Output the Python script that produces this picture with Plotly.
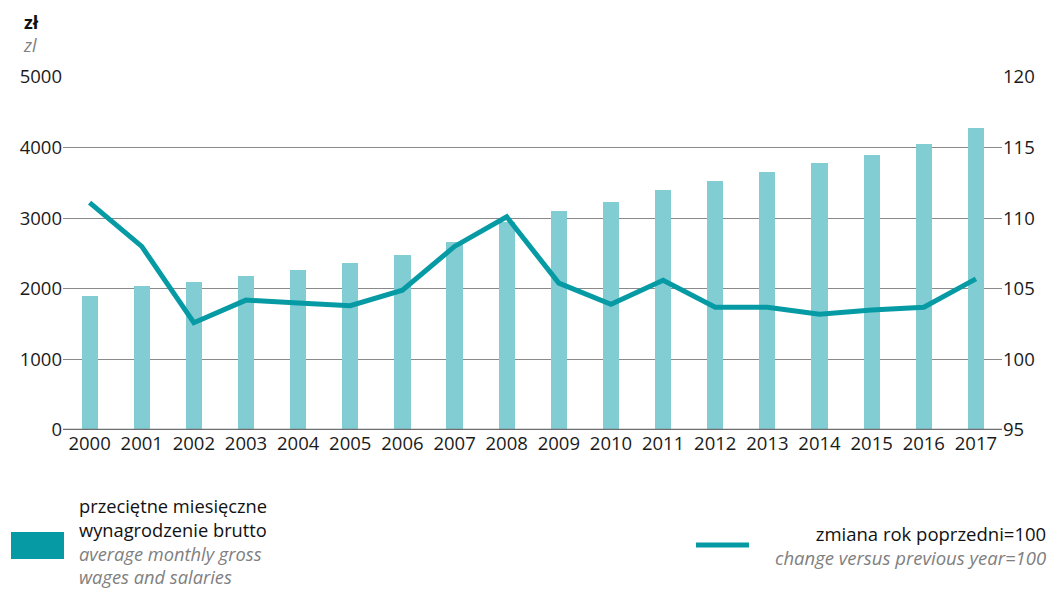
import plotly.graph_objects as go

years = list(range(2000, 2018))
wages = [1894, 2045, 2098, 2185, 2273, 2361, 2477, 2670, 2944, 3103, 3225, 3400, 3527, 3655, 3777, 3900, 4049, 4280]
change = [111.1, 108.0, 102.6, 104.2, 104.0, 103.8, 104.9, 108.0, 110.1, 105.4, 103.9, 105.6, 103.7, 103.7, 103.2, 103.5, 103.7, 105.7]
left_ticks = [0, 1000, 2000, 3000, 4000, 5000]
right_ticks = [95, 100, 105, 110, 115, 120]

BAR = "#82cdd3"
LINE = "#069ba4"
FONT = "Open Sans"
W, H = 1052, 589
L, R, T, B = 63, 50, 77, 159
PW, PH = W - L - R, H - T - B

def px(x):
    return (x - L) / PW

def py(y):
    return (H - B - y) / PH

fig = go.Figure()
fig.add_trace(go.Bar(x=years, y=wages, marker=dict(color=BAR, line=dict(width=0)),
                     width=0.31, yaxis="y", showlegend=False))
fig.add_trace(go.Scatter(x=years, y=change, mode="lines", line=dict(color=LINE, width=5),
                         yaxis="y2", showlegend=False))

fig.update_layout(
    width=W, height=H, autosize=False,
    margin=dict(l=L, r=R, t=T, b=B),
    plot_bgcolor="white", paper_bgcolor="white",
    font=dict(family=FONT, size=18, color="#1a1a1a"),
    xaxis=dict(range=[1999.49, 2017.5], tickmode="array", tickvals=years,
               ticktext=[str(y) for y in years], showgrid=False, zeroline=False,
               showline=False, ticks="", tickfont=dict(size=18.5)),
    yaxis=dict(range=[0, 5000], tickvals=left_ticks, showgrid=True, gridcolor="#8a8a8a",
               gridwidth=1.3, zeroline=False, showline=False, ticks="",
               ticksuffix=" ", tickfont=dict(size=18.5)),
    yaxis2=dict(range=[95, 120], tickvals=right_ticks, overlaying="y", side="right",
                showgrid=False, zeroline=False, showline=False, ticks="",
                tickprefix=" ", tickfont=dict(size=18.5)),
    bargap=0,
)

# baseline
fig.add_shape(type="line", xref="paper", yref="y", x0=0, x1=1, y0=0, y1=0,
              line=dict(color="#6e6e6e", width=2.5), layer="above")

BLACK = "#111111"
GREY = "#808080"
ann = []
ann.append(dict(x=px(21), y=py(34), text=f"<b>zł</b><br><i><span style='color:{GREY}'>zl</span></i>",
                font=dict(size=18, color=BLACK), xanchor="left", align="left"))
left_text = ("przeciętne miesięczne<br>wynagrodzenie brutto<br>"
             f"<span style='color:{GREY}'><i>average monthly gross</i></span><br>"
             f"<span style='color:{GREY}'><i>wages and salaries</i></span>")
ann.append(dict(x=px(77), y=py(541), text=left_text, font=dict(size=18.3, color=BLACK),
                xanchor="left", align="left"))
right_text = ("zmiana rok poprzedni=100<br>"
              f"<span style='color:{GREY}'><i>change versus previous year=100</i></span>")
ann.append(dict(x=px(1048), y=py(545), text=right_text, font=dict(size=18.5, color=BLACK),
                xanchor="right", align="right"))
for a in ann:
    a.update(xref="paper", yref="paper", showarrow=False, yanchor="middle")
fig.update_layout(annotations=ann)

# legend symbols
fig.add_shape(type="rect", xref="paper", yref="paper", x0=px(11), x1=px(64), y0=py(559), y1=py(532),
              fillcolor=LINE, line=dict(width=0))
fig.add_shape(type="line", xref="paper", yref="paper", x0=px(696), x1=px(749), y0=py(545), y1=py(545),
              line=dict(color=LINE, width=5))

fig.write_html("out.html", config={"displayModeBar": False},
               post_script="document.body.style.margin='0';document.body.style.overflow='hidden';")
